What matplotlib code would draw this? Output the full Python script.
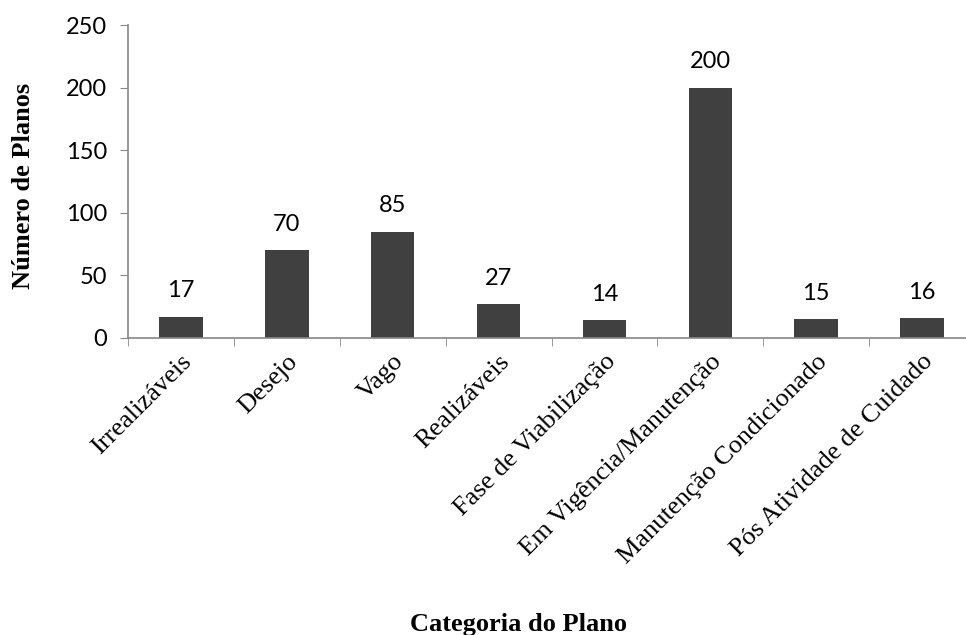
import numpy as np
import matplotlib.pyplot as plt

categorias = ['Irrealizáveis', 'Desejo', 'Vago', 'Realizáveis', 'Fase de Viabilização',
              'Em Vigência/Manutenção', 'Manutenção Condicionado', 'Pós Atividade de Cuidado']
planos = [17, 70, 85, 27, 14, 200, 15, 16]

fig = plt.figure(figsize=(9.66, 6.35), dpi=100)
ax = fig.add_axes([128 / 966, 1 - 338 / 635, 847 / 966, 313 / 635])

x = np.arange(len(categorias))
ax.bar(x, planos, width=0.41, color='#404040')

# rótulos de valor acima de cada barra
for xi, v in zip(x, planos):
    ax.annotate(str(v), (xi, v), xytext=(0, 11), textcoords='offset points',
                ha='center', va='bottom', fontsize=17, family='Lato')

ax.set_xlim(-0.5, len(categorias) - 0.5)
ax.set_ylim(0, 250)
ax.set_yticks(range(0, 251, 50))
ax.set_xticks(x)
ax.set_xticks(np.arange(-0.5, len(categorias)), minor=True)
ax.set_xticklabels(categorias, rotation=45, ha='right', va='top', rotation_mode='anchor',
                   family='Liberation Serif', fontsize=19)
ax.tick_params(axis='x', which='major', length=0, pad=9)
ax.tick_params(axis='x', which='minor', length=6, color='#888888', direction='out')
ax.tick_params(axis='y', length=6, color='#888888', pad=9)
for lbl in ax.get_yticklabels():
    lbl.set_family('Lato')
    lbl.set_fontsize(17)

for s in ['top', 'right']:
    ax.spines[s].set_visible(False)
for s in ['left', 'bottom']:
    ax.spines[s].set_color('#888888')
    ax.spines[s].set_linewidth(1.2)

fig.text(24 / 966, 1 - 186 / 635, 'Número de Planos', rotation=90, ha='center', va='center',
         family='Liberation Serif', fontweight='bold', fontsize=19)
fig.text(518 / 966, 4 / 635, 'Categoria do Plano', ha='center', va='baseline',
         family='Liberation Serif', fontweight='bold', fontsize=19)

fig.savefig('out.png', dpi=100)
